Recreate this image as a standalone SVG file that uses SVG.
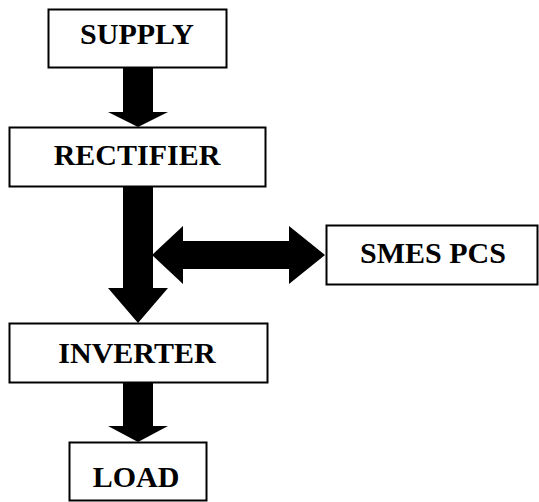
<svg xmlns="http://www.w3.org/2000/svg" width="539" height="502" viewBox="0 0 539 502">
<style>
.box{fill:#fff;stroke:#000;stroke-width:2}
.lbl{font-family:"Liberation Serif","Times New Roman",serif;font-weight:bold;font-size:30px;fill:#000;text-anchor:middle}
.arrow{fill:#000;stroke:none}
</style>
<rect width="539" height="502" fill="#fff"/>
<g id="connectors">
<polygon class="arrow" points="123,68 153,68 153,112 168,112 138,127 108,112 123,112"/>
<polygon class="arrow" points="123,187 153,187 153,288 168,288 138,323 108,288 123,288"/>
<polygon class="arrow" points="152,255 183,226 183,241 289,241 289,226 325,255 289,284 289,269 183,269 183,284"/>
<polygon class="arrow" points="123,383 153,383 153,426 168,426 138,442 108,426 123,426"/>
</g>
<g id="supply">
<rect class="box" x="48.5" y="9.5" width="178" height="58"/>
<text class="lbl" x="137" y="44">SUPPLY</text>
</g>
<g id="rectifier">
<rect class="box" x="9.5" y="127.5" width="256" height="59"/>
<text class="lbl" x="137" y="165">RECTIFIER</text>
</g>
<g id="smes">
<rect class="box" x="326.5" y="225.5" width="211" height="59"/>
<text class="lbl" x="433" y="263">SMES PCS</text>
</g>
<g id="inverter">
<rect class="box" x="9.5" y="323.5" width="258" height="59"/>
<text class="lbl" x="137" y="363">INVERTER</text>
</g>
<g id="load">
<rect class="box" x="69.5" y="442.5" width="137" height="58"/>
<text class="lbl" x="136" y="487">LOAD</text>
</g>
</svg>
